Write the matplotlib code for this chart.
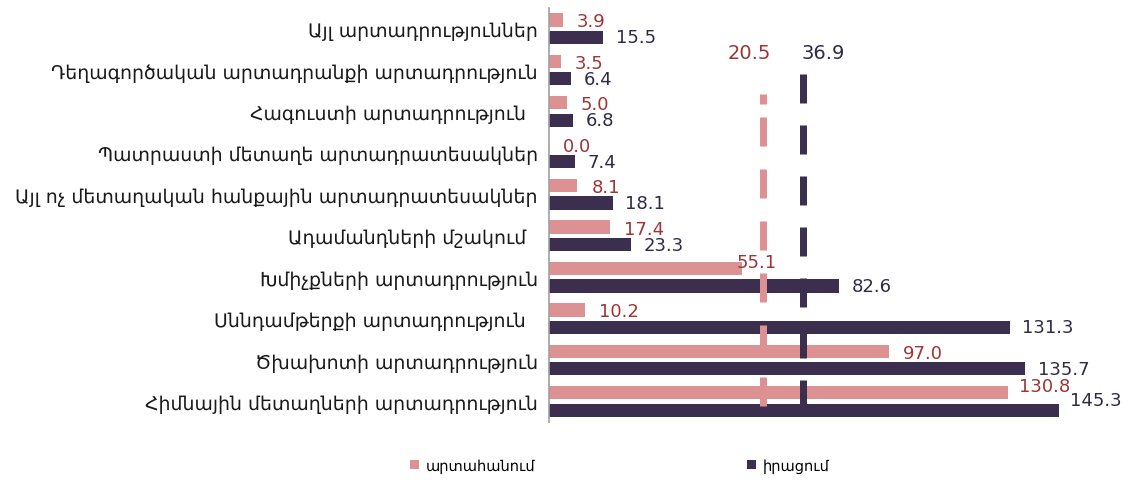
import matplotlib
matplotlib.use("Agg")
import matplotlib.pyplot as plt
from matplotlib.patches import Patch
import numpy as np

plt.rcParams['font.family'] = ['DejaVu Sans']

categories = [
    "Այլ արտադրություններ",
    "Դեղագործական արտադրանքի արտադրություն",
    "Հագուստի արտադրություն  ",
    "Պատրաստի մետաղե արտադրատեսակներ",
    "Այլ ոչ մետաղական հանքային արտադրատեսակներ",
    "Ադամանդների մշակում  ",
    "Խմիչքների արտադրություն",
    "Սննդամթերքի արտադրություն  ",
    "Ծխախոտի արտադրություն",
    "Հիմնային մետաղների արտադրություն",
]
export_vals = [3.9, 3.5, 5.0, 0.0, 8.1, 17.4, 55.1, 10.2, 97.0, 130.8]
sales_vals = [15.5, 6.4, 6.8, 7.4, 18.1, 23.3, 82.6, 131.3, 135.7, 145.3]
series_names = ["արտահանում", "իրացում"]
export_avg = 20.5
sales_avg = 36.9

PINK = "#dc9193"
NAVY = "#3b2e4e"
PINK_TXT = "#9e3535"
NAVY_TXT = "#2f2a45"

W, H = 1131, 481
fig = plt.figure(figsize=(W / 100, H / 100), dpi=100)
ax_left, ax_right = 549 / W, 1100 / W
ax_bottom, ax_top = 1 - 423.2 / H, 1 - 9.0 / H
ax = fig.add_axes([ax_left, ax_bottom, ax_right - ax_left, ax_top - ax_bottom])

y = np.arange(len(categories))
bh = 0.32
off = 0.21
ax.barh(y - off, export_vals, height=bh, color=PINK, zorder=2)
ax.barh(y + off, sales_vals, height=bh, color=NAVY, zorder=2)

ax.set_xlim(0, 157)
ax.set_ylim(9.5, -0.5)
ax.set_yticks(y)
ax.set_yticklabels(categories, fontsize=13.6, color="#1a1a1a")
ax.tick_params(axis='y', length=0, pad=8)
ax.tick_params(axis='x', length=0, labelbottom=False)
for s in ["top", "right", "bottom"]:
    ax.spines[s].set_visible(False)
ax.spines["left"].set_color("#a0a0a0")
ax.spines["left"].set_linewidth(1.2)

# value labels (offsets in points: dx, dy)
exp_off = {6: (-4, 5), 9: (8, 5)}
sal_off = {9: (8, 7)}
for i, v in enumerate(export_vals):
    dx, dy = exp_off.get(i, (10, -1))
    ax.annotate(f"{v:.1f}", xy=(v, y[i] - off), xytext=(dx, dy), textcoords="offset points",
                ha="left", va="center", fontsize=13, color=PINK_TXT, zorder=5)
for i, v in enumerate(sales_vals):
    dx, dy = sal_off.get(i, (9, 0))
    ax.annotate(f"{v:.1f}", xy=(v, y[i] + off), xytext=(dx, dy), textcoords="offset points",
                ha="left", va="center", fontsize=13, color=NAVY_TXT, zorder=5)

# average lines on a secondary scale
ax2 = ax.twiny()
ax2.set_xlim(-66, 157)
ax2.set_ylim(9.5, -0.5)
ax2.axis("off")

lw_px = 7
lw_pt = lw_px * 0.72
def px_dash(seq):
    return [d / lw_px for d in seq]

def py(p):
    return (p - 29.75) / 41.42

ax2.plot([sales_avg, sales_avg], [py(75), py(410)], color=NAVY, lw=lw_pt,
         linestyle=(0, px_dash([29, 22])), solid_capstyle="butt", dash_capstyle="butt", zorder=4)
ax2.plot([export_avg, export_avg], [py(95), py(407)], color=PINK, lw=lw_pt,
         linestyle=(0, px_dash([10, 13] + [29, 23] * 8)), solid_capstyle="butt",
         dash_capstyle="butt", zorder=4)

ax2.annotate(f"{export_avg:.1f}", xy=(export_avg, py(54)), xytext=(6, 0), textcoords="offset points",
             ha="right", va="center", fontsize=14, color=PINK_TXT)
ax2.annotate(f"{sales_avg:.1f}", xy=(sales_avg, py(54)), xytext=(-1, 0), textcoords="offset points",
             ha="left", va="center", fontsize=14, color=NAVY_TXT)

handles = [Patch(facecolor=PINK, edgecolor="none"), Patch(facecolor=NAVY, edgecolor="none")]
fig.legend(handles, series_names, loc="center", bbox_to_anchor=(0.548, 1 - 466 / H), ncol=2,
           frameon=False, fontsize=10.5, handlelength=0.6, handleheight=0.6, handletextpad=0.5,
           columnspacing=14.5)

fig.savefig("out.png", dpi=100, facecolor="white")
